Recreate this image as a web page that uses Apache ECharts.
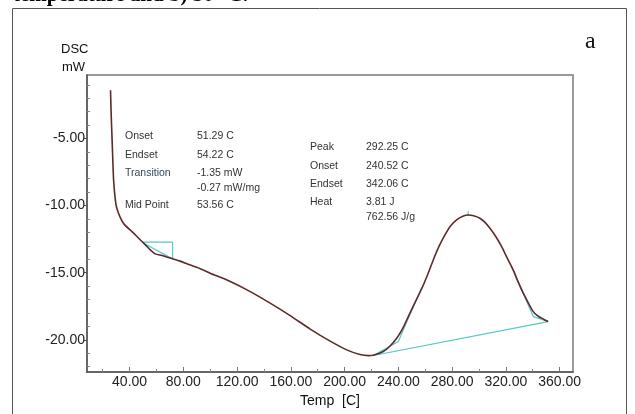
<!DOCTYPE html>
<html>
<head>
<meta charset="utf-8">
<script src="https://cdn.jsdelivr.net/npm/echarts@6/dist/echarts.min.js"></script>
<style>
  html, body { margin: 0; padding: 0; background: #fff; }
  #chart { width: 635px; height: 414px; }
</style>
</head>
<body>
<div id="chart"></div>
<script>
// DSC trace
const dscTemp = [25.8, 26.3, 26.9, 27.5, 28.1, 29.4, 30.5, 33.1, 36, 41.8, 45.5, 49.2, 52.5, 55.4, 59.1, 64.1, 71.5, 77, 82.7, 92.6,
  100, 114.9, 129.8, 144.6, 159.5, 174.4, 189.3, 201.6, 211.5, 217.7, 221.4, 228.8, 233.5, 238.8, 243, 247.4, 252, 257.4,
  262, 266, 270, 274.7, 279, 283.4, 288, 292, 296, 300.7, 304.5, 308.2, 312.5, 316.9, 321, 325.5, 329, 333, 337, 340.4,
  343.5, 346.6, 349, 351.5];
const dscValue = [-1.4, -3.2, -4.9, -6.6, -8.1, -9.6, -10.2, -10.9, -11.4, -11.94, -12.3, -12.68, -13.0, -13.3, -13.6, -13.72, -13.95, -14.12, -14.33, -14.7,
  -15.04, -15.66, -16.41, -17.27, -18.2, -19.2, -20.1, -20.75, -21.1, -21.18, -21.15, -20.87, -20.5, -19.88, -19.2, -18.27, -17.3, -16.2,
  -15.1, -14.05, -13.1, -12.19, -11.5, -11.07, -10.8, -10.7, -10.75, -10.94, -11.25, -11.69, -12.3, -13.06, -13.9, -14.79, -15.65, -16.53, -17.3, -17.9,
  -18.2, -18.39, -18.52, -18.64];

// evaluation construction lines (cyan)
const glassTemp = [49.2, 72, 72, 50.5];
const glassDsc = [-12.73, -12.73, -13.97, -12.8];
const baseTemp = [221.4, 351.5];
const baseDsc = [-21.17, -18.64];
const leftTanTemp = [221.4, 240, 257.4];
const leftTanDsc = [-21.17, -20.13, -16.1];
const rightTanTemp = [324.3, 340.4, 351.5];
const rightTanDsc = [-14.55, -18.27, -18.64];
const peakMarkTemp = [292, 292];
const peakMarkDsc = [-10.42, -10.75];

// ticks
const xLabels = [40, 80, 120, 160, 200, 240, 280, 320, 360];
const xMinor = [20, 60, 100, 140, 180, 220, 260, 300, 340];
const yLabels = [-20, -15, -10, -5];
const yMinor = [-22, -21, -19, -18, -17, -16, -14, -13, -12, -11, -9, -8, -7, -6, -4, -3, -2, -1];

const zip = (a, b) => a.map((v, i) => [v, b[i]]);
const font = 'Arial, "Liberation Sans", sans-serif';

const chart = echarts.init(document.getElementById('chart'));

const cyan = (data) => ({
  type: 'line', data: data, showSymbol: false, silent: true,
  lineStyle: { color: '#55c8c8', width: 1.2 }, z: 3
});

chart.setOption({
  animation: false,
  grid: { left: 87, right: 62, top: 75, bottom: 42, show: true, borderColor: '#9a9a9a', borderWidth: 2 },
  xAxis: [{
    type: 'value', min: 8.3, max: 370, position: 'bottom',
    name: 'Temp  [C]', nameLocation: 'middle', nameGap: 20,
    nameTextStyle: { fontFamily: font, fontSize: 14, color: '#111' },
    axisLine: { show: true, lineStyle: { color: '#555', width: 1.5 } },
    axisTick: { show: true, inside: true, length: 5, customValues: xLabels, lineStyle: { color: '#777' } },
    axisLabel: { customValues: xLabels, formatter: v => v.toFixed(2), fontFamily: font, fontSize: 14, color: '#222', margin: 3 },
    splitLine: { show: false }
  }, {
    type: 'value', min: 8.3, max: 370, position: 'bottom', gridIndex: 0,
    axisLine: { show: false },
    axisTick: { show: true, inside: true, length: 3, customValues: xMinor, lineStyle: { color: '#888' } },
    axisLabel: { show: false },
    splitLine: { show: false }
  }],
  yAxis: [{
    type: 'value', min: -22.4, max: -0.27, position: 'left',
    axisLine: { show: true, lineStyle: { color: '#555', width: 1.5 } },
    axisTick: { show: true, inside: false, length: 3, customValues: yLabels, lineStyle: { color: '#555' } },
    axisLabel: { customValues: yLabels, formatter: v => v.toFixed(2), fontFamily: font, fontSize: 14, color: '#222', margin: 2 },
    splitLine: { show: false }
  }, {
    type: 'value', min: -22.4, max: -0.27, position: 'left',
    axisLine: { show: false },
    axisTick: { show: true, inside: true, length: 3, customValues: yMinor, lineStyle: { color: '#888' } },
    axisLabel: { show: false },
    splitLine: { show: false }
  }],
  series: [
    {
      type: 'line', data: zip(dscTemp, dscValue), showSymbol: false, silent: true,
      smooth: 0.2,
      lineStyle: { color: '#5e2a2a', width: 1.6 }, z: 4
    },
    cyan(zip(glassTemp, glassDsc)),
    cyan(zip(baseTemp, baseDsc)),
    cyan(zip(leftTanTemp, leftTanDsc)),
    cyan(zip(rightTanTemp, rightTanDsc)),
    cyan(zip(peakMarkTemp, peakMarkDsc))
  ],
  graphic: [
    { type: 'rect', shape: { x: 12.5, y: 8.5, width: 614, height: 420 }, style: { fill: 'none', stroke: '#555', lineWidth: 1 }, silent: true },
    { type: 'text', left: 13, top: -15, style: { text: 'temperature and b) 30 °C.', font: 'bold 21px "Liberation Serif", serif', fill: '#000' } },
    { type: 'text', left: 585, top: 30, style: { text: 'a', font: '24px "Liberation Serif", serif', fill: '#111' } },
    { type: 'text', left: 61, top: 43, style: { text: 'DSC', font: '13px ' + font, fill: '#111' } },
    { type: 'text', left: 62, top: 61, style: { text: 'mW', font: '13px ' + font, fill: '#111' } },

    { type: 'text', left: 125, top: 131, style: { text: 'Onset', font: '10.5px ' + font, fill: '#333' } },
    { type: 'text', left: 197, top: 131, style: { text: '51.29 C', font: '10.5px ' + font, fill: '#333' } },
    { type: 'text', left: 125, top: 150, style: { text: 'Endset', font: '10.5px ' + font, fill: '#333' } },
    { type: 'text', left: 197, top: 150, style: { text: '54.22 C', font: '10.5px ' + font, fill: '#333' } },
    { type: 'text', left: 125, top: 168, style: { text: 'Transition', font: '10.5px ' + font, fill: '#34465a' } },
    { type: 'text', left: 197, top: 168, style: { text: '-1.35 mW', font: '10.5px ' + font, fill: '#333' } },
    { type: 'text', left: 197, top: 183, style: { text: '-0.27 mW/mg', font: '10.5px ' + font, fill: '#333' } },
    { type: 'text', left: 125, top: 200, style: { text: 'Mid Point', font: '10.5px ' + font, fill: '#333' } },
    { type: 'text', left: 197, top: 200, style: { text: '53.56 C', font: '10.5px ' + font, fill: '#333' } },

    { type: 'text', left: 310, top: 142, style: { text: 'Peak', font: '10.5px ' + font, fill: '#333' } },
    { type: 'text', left: 366, top: 142, style: { text: '292.25 C', font: '10.5px ' + font, fill: '#333' } },
    { type: 'text', left: 310, top: 161, style: { text: 'Onset', font: '10.5px ' + font, fill: '#333' } },
    { type: 'text', left: 366, top: 161, style: { text: '240.52 C', font: '10.5px ' + font, fill: '#333' } },
    { type: 'text', left: 310, top: 179, style: { text: 'Endset', font: '10.5px ' + font, fill: '#333' } },
    { type: 'text', left: 366, top: 179, style: { text: '342.06 C', font: '10.5px ' + font, fill: '#333' } },
    { type: 'text', left: 310, top: 197, style: { text: 'Heat', font: '10.5px ' + font, fill: '#333' } },
    { type: 'text', left: 366, top: 197, style: { text: '3.81 J', font: '10.5px ' + font, fill: '#333' } },
    { type: 'text', left: 366, top: 212, style: { text: '762.56 J/g', font: '10.5px ' + font, fill: '#333' } }
  ]
});
</script>
</body>
</html>
